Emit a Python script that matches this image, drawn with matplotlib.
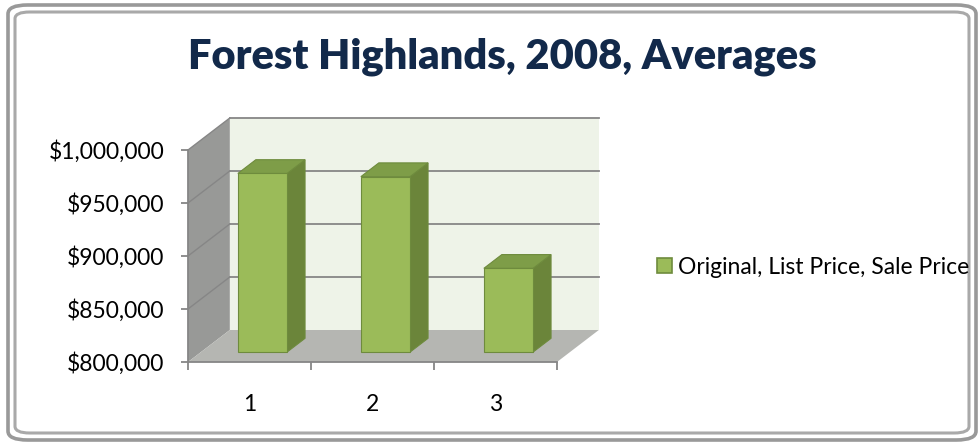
import matplotlib.pyplot as plt
from matplotlib.patches import Polygon, FancyBboxPatch, Patch

# data
categories = ['1', '2', '3']
values = [968500, 965500, 879000]
series_name = 'Original, List Price, Sale Price'
title = 'Forest Highlands, 2008, Averages'
yticks = [800000, 850000, 900000, 950000, 1000000]
ytick_labels = ['$800,000', '$850,000', '$900,000', '$950,000', '$1,000,000']

plt.rcParams['font.family'] = ['Lato', 'DejaVu Sans']

ymin, ymax = yticks[0], yticks[-1]
xmin, xmax = 0.5, len(categories) + 0.5

# oblique depth offset (full depth) in data units
DX = 0.34
DY = 0.151 * (ymax - ymin)

def pt(x, y, d):
    return (x + d * DX, y + d * DY)

front_c = '#9bbb59'
side_c = '#6b853a'
top_c = '#7e9d48'
edge_c = '#6e8b3d'
grid_c = '#868686'

fig = plt.figure(figsize=(9.8, 4.46), dpi=100)

# chart frame (double rounded border)
fig.patches.append(FancyBboxPatch((8 / 980, 6 / 446), 968 / 980, 435 / 446,
                                  boxstyle='round,pad=0,rounding_size=0.02',
                                  transform=fig.transFigure, fc='white',
                                  ec='#999999', lw=2.6, zorder=-2))
fig.patches.append(FancyBboxPatch((15 / 980, 13 / 446), 954 / 980, 421 / 446,
                                  boxstyle='round,pad=0,rounding_size=0.015',
                                  transform=fig.transFigure, fc='none',
                                  ec='#a9a9a9', lw=2.2, zorder=-1))

ax = fig.add_axes([188 / 980, 84 / 446, 369 / 980, 212 / 446])
ax.set_xlim(xmin, xmax)
ax.set_ylim(ymin, ymax)
ax.patch.set_visible(False)

# walls and floor
side = [pt(xmin, ymin, 0), pt(xmin, ymax, 0), pt(xmin, ymax, 1), pt(xmin, ymin, 1)]
floor = [pt(xmin, ymin, 0), pt(xmax, ymin, 0), pt(xmax, ymin, 1), pt(xmin, ymin, 1)]
back = [pt(xmin, ymin, 1), pt(xmax, ymin, 1), pt(xmax, ymax, 1), pt(xmin, ymax, 1)]
ax.add_patch(Polygon(side, closed=True, fc='#989997', ec='none', clip_on=False, zorder=0.5))
ax.add_patch(Polygon(floor, closed=True, fc='#b5b6b2', ec='none', clip_on=False, zorder=0.5))
ax.add_patch(Polygon(back, closed=True, fc='#eef3e8', ec='none', clip_on=False, zorder=0.5))

# gridlines on back wall and side wall
for y in yticks[1:]:
    ax.plot([pt(xmin, y, 1)[0], pt(xmax, y, 1)[0]], [pt(xmin, y, 1)[1], pt(xmax, y, 1)[1]],
            color=grid_c, lw=1.3, clip_on=False, zorder=0.8)
    ax.plot([pt(xmin, y, 0)[0], pt(xmin, y, 1)[0]], [pt(xmin, y, 0)[1], pt(xmin, y, 1)[1]],
            color=grid_c, lw=1.0, clip_on=False, zorder=0.8)

# 3d-style bars
w = 0.4
d0, d1 = 0.31, 0.74
for i, v in enumerate(values):
    c = i + 1
    l, r = c - w / 2, c + w / 2
    front = [pt(l, ymin, d0), pt(r, ymin, d0), pt(r, v, d0), pt(l, v, d0)]
    rside = [pt(r, ymin, d0), pt(r, ymin, d1), pt(r, v, d1), pt(r, v, d0)]
    top = [pt(l, v, d0), pt(r, v, d0), pt(r, v, d1), pt(l, v, d1)]
    ax.add_patch(Polygon(rside, closed=True, fc=side_c, ec=edge_c, lw=0.8, clip_on=False, zorder=2))
    ax.add_patch(Polygon(top, closed=True, fc=top_c, ec=edge_c, lw=0.8, clip_on=False, zorder=2))
    ax.add_patch(Polygon(front, closed=True, fc=front_c, ec=edge_c, lw=0.8, clip_on=False, zorder=2.1))

# axes
for s in ['top', 'right']:
    ax.spines[s].set_visible(False)
for s in ['left', 'bottom']:
    ax.spines[s].set_color(grid_c)
    ax.spines[s].set_linewidth(1.3)

ax.set_yticks(yticks)
ax.set_yticklabels(ytick_labels)
ax.tick_params(axis='y', length=5, width=1.3, color=grid_c, pad=12, labelsize=16.5)

ax.set_xticks(range(1, len(categories) + 1))
ax.set_xticklabels(categories)
ax.set_xticks([xmin + k for k in range(len(categories) + 1)], minor=True)
ax.tick_params(axis='x', which='major', length=0, pad=23, labelsize=16.5)
ax.tick_params(axis='x', which='minor', length=6, width=1.3, color=grid_c)

fig.text(502 / 980, 1 - 69 / 446, title, ha='center', va='baseline',
         fontsize=30, fontweight='heavy', color='#12294a')

ax.legend(handles=[Patch(fc=front_c, ec=edge_c, lw=1.2)], labels=[series_name],
          loc='center left', bbox_to_anchor=(657 / 980, 1 - 267 / 446),
          bbox_transform=fig.transFigure, frameon=False, fontsize=16.5,
          handlelength=0.66, handleheight=0.66, handletextpad=0.25,
          borderpad=0, borderaxespad=0)

fig.savefig('out.png', dpi=100)
